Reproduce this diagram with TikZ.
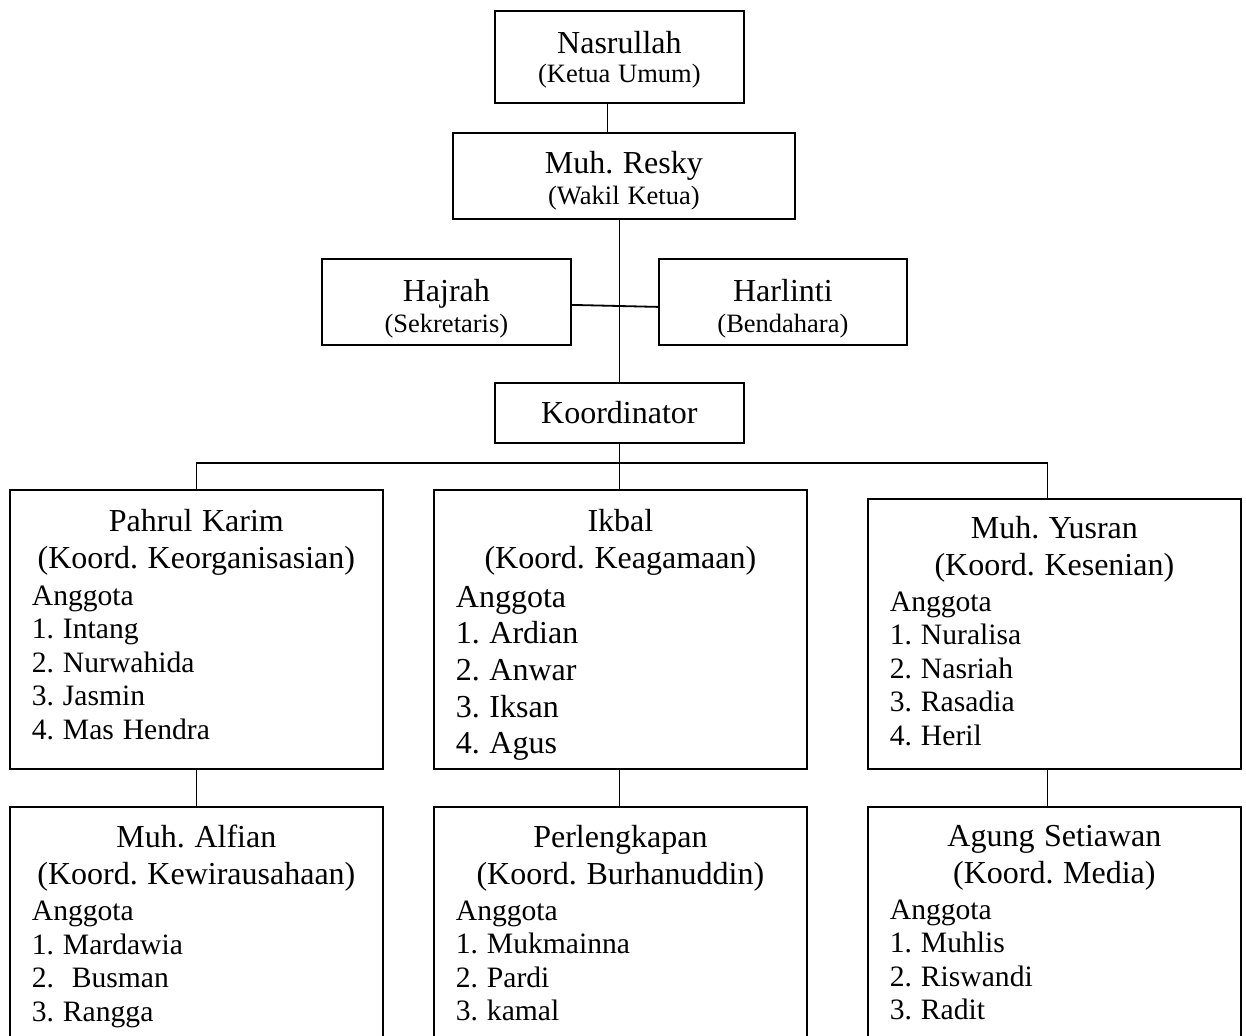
\documentclass[tikz,border=0pt]{standalone}
\usepackage{fontspec}
\setmainfont{Liberation Serif}[WordSpace=1.2]
\usetikzlibrary{positioning}
\frenchspacing
\newcommand{\judul}{\fontsize{32}{37}\selectfont}
\newcommand{\isi}{\fontsize{29.6}{33.5}\selectfont}
\newcommand{\isibesar}{\fontsize{32}{36.7}\selectfont}
\newcommand{\kecil}{\fontsize{26.5}{31}\selectfont}
% tinggi, lebar, jarak atas, teks
\newcommand{\isikotak}[4]{\parbox[t][#1][t]{#2}{\vspace*{#3}#4}}

\begin{document}
\begin{tikzpicture}[x=1pt, y=-1pt,
    kotak/.style={draw, line width=1.8pt, anchor=north west, inner sep=0pt},
    seksi/.style={draw, line width=1.8pt, anchor=north west, inner xsep=22pt, inner ysep=0pt},
    garis/.style={line width=1.8pt}]
      \useasboundingbox (0,0) rectangle (1246,1035);

      \node[kotak] (Ketua) at (494,10) {\isikotak{92pt}{249pt}{20pt}{\centering{\judul Nasrullah\par}\vspace{-2pt}{\kecil (Ketua Umum)\par}}};
      \node[kotak] (Wakil) at (452,132) {\isikotak{86pt}{342pt}{18pt}{\centering{\judul Muh. Resky\par}{\kecil (Wakil Ketua)\par}}};
      \node[kotak] (Sekretaris) at (321,258) {\isikotak{86pt}{249pt}{20pt}{\centering{\judul Hajrah\par}{\kecil (Sekretaris)\par}}};
      \node[kotak] (Bendahara) at (658,258) {\isikotak{86pt}{248pt}{20pt}{\centering{\judul Harlinti\par}{\kecil (Bendahara)\par}}};
      \node[kotak, text width=249pt, minimum height=60pt, align=center] (Koordinator) at (494,382) {\judul Koordinator};

      \node[seksi] (Pahrul) at (9,489) {\isikotak{279pt}{329pt}{19pt}{{\centering\judul Pahrul Karim\\(Koord. Keorganisasian)\par}
        \vspace{3.5pt}{\isi Anggota\\1. Intang\\2. Nurwahida\\3. Jasmin\\4. Mas Hendra\par}}};
      \node[seksi] (Ikbal) at (433,489) {\isikotak{279pt}{329pt}{19pt}{{\centering\judul Ikbal\\(Koord. Keagamaan)\par}
        \vspace{2.3pt}{\isibesar Anggota\\1. Ardian\\2. Anwar\\3. Iksan\\4. Agus\par}}};
      \node[seksi] (Yusran) at (867,498) {\isikotak{270pt}{329pt}{17pt}{{\centering\judul Muh. Yusran\\(Koord. Kesenian)\par}
        \vspace{2.8pt}{\isi Anggota\\1. Nuralisa\\2. Nasriah\\3. Rasadia\\4. Heril\par}}};

      \node[seksi] (Alfian) at (9,806) {\isikotak{240pt}{329pt}{18pt}{{\centering\judul Muh. Alfian\\(Koord. Kewirausahaan)\par}
        \vspace{2.8pt}{\isi Anggota\\1. Mardawia\\2.\ \ Busman\\3. Rangga\par}}};
      \node[seksi] (Perlengkapan) at (433,806) {\isikotak{240pt}{329pt}{18pt}{{\centering\judul Perlengkapan\\(Koord. Burhanuddin)\par}
        \vspace{2.8pt}{\isi Anggota\\1. Mukmainna\\2. Pardi\\3. kamal\par}}};
      \node[seksi] (Agung) at (867,806) {\isikotak{240pt}{329pt}{18pt}{{\centering\judul Agung Setiawan\\(Koord. Media)\par}
        \vspace{2.8pt}{\isi Anggota\\1. Muhlis\\2. Riswandi\\3. Radit\par}}};

      \coordinate (Cabang) at (Koordinator.south |- 0,463);

      \draw[garis] ([xshift=-12pt]Ketua.south) -- ([xshift=-12pt]Ketua.south |- Wakil.north);
      \draw[garis] (Koordinator.north |- Wakil.south) -- (Koordinator.north);
      \draw[garis] ([yshift=-3pt]Sekretaris.east) -- ([yshift=-5pt]Bendahara.west);
      \draw[garis] (Koordinator.south) -- (Koordinator.south |- Ikbal.north);
      \draw[garis] (Pahrul.north) |- (Cabang) -| ([xshift=-7pt]Yusran.north);
      \draw[garis] (Pahrul.south) -- (Alfian.north);
      \draw[garis] (Koordinator.south |- Ikbal.south) -- (Koordinator.south |- Perlengkapan.north);
      \draw[garis] ([xshift=-7pt]Yusran.south) -- ([xshift=-7pt]Agung.north);
    \end{tikzpicture}
\end{document}
